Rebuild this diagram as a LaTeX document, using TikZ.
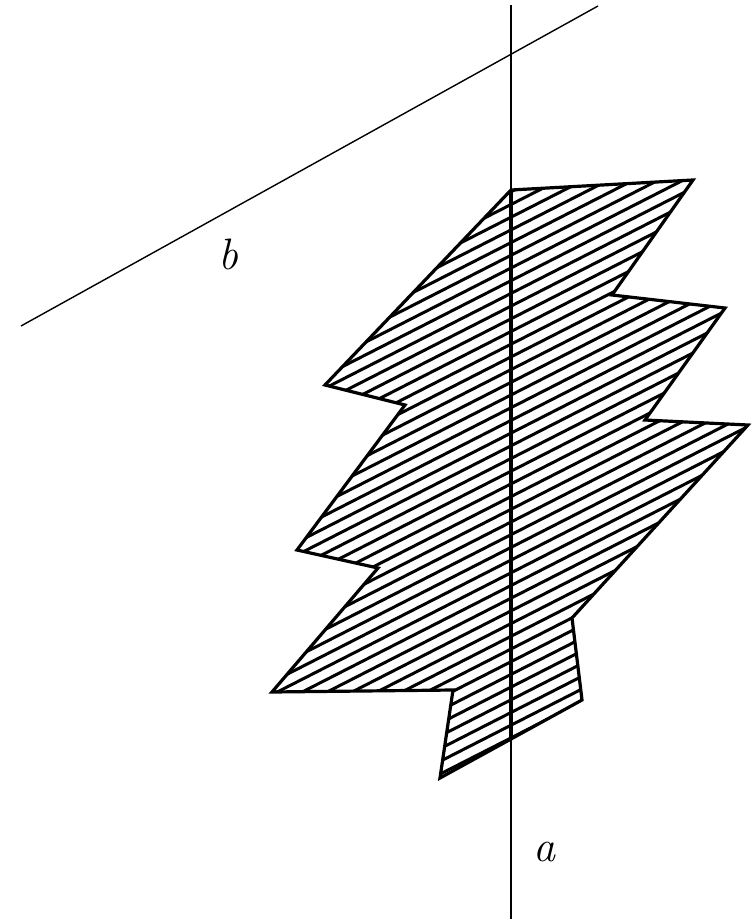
\documentclass[tikz,border=0pt]{standalone}
\usepackage{fontspec}
\begin{document}
\begin{tikzpicture}[x=1pt,y=-1pt,
  outline/.style={line width=3.2pt,line join=miter},
  hatch/.style={line width=3pt},
  thinline/.style={line width=1.4pt},
  lbl/.style={font=\fontsize{44}{44}\selectfont\itshape,inner sep=0pt}]
\useasboundingbox (0,0) rectangle (755,919);
% polygon vertices
\coordinate (p1) at (511,190);
\coordinate (p2) at (693,180);
\coordinate (p3) at (612,295);
\coordinate (p4) at (725,308);
\coordinate (p5) at (645,420);
\coordinate (p6) at (748,425);
\coordinate (p7) at (572,618);
\coordinate (p8) at (582,700);
\coordinate (p9) at (440,778);
\coordinate (p10) at (453,690);
\coordinate (p11) at (272,692);
\coordinate (p12) at (378,568);
\coordinate (p13) at (297,550);
\coordinate (p14) at (405,405);
\coordinate (p15) at (325,385);
% line ends
\coordinate (atop) at (511,5);
\coordinate (abot) at (511,919);
\coordinate (bstart) at (21,326);
\coordinate (bend) at (598,6);
% hatching
\begin{scope}
\clip (p1)--(p2)--(p3)--(p4)--(p5)--(p6)--(p7)--(p8)--(p9)--(p10)--(p11)--(p12)--(p13)--(p14)--(p15)--cycle;
\foreach \c in {300,312.7,...,1190}{
  \draw[hatch] (250,\c-0.51*250) -- (760,\c-0.51*760);
}
\draw[line width=3.4pt] (511,150) -- (511,800);
\end{scope}
\draw[outline] (p1)--(p2)--(p3)--(p4)--(p5)--(p6)--(p7)--(p8)--(p9)--(p10)--(p11)--(p12)--(p13)--(p14)--(p15)--cycle;
% lines a and b
\draw[thinline] (atop) -- (abot);
\draw[thinline] (bstart) -- (bend);
\node[lbl] (la) at (544,852) {a};
\node[lbl] (lb) at (228,254) {b};
\end{tikzpicture}
\end{document}
